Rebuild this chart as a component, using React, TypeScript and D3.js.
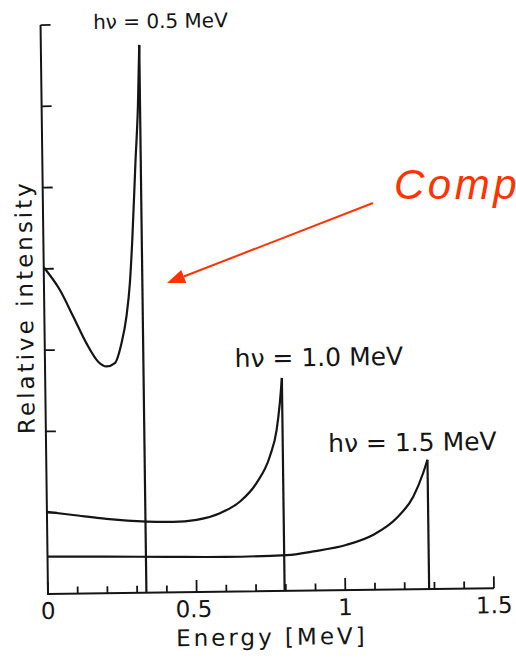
import React from 'react';
import * as d3 from 'd3';

const W = 516;
const H = 666;

// Axis ticks
const xMajorTicks = [0, 0.5, 1, 1.5];
const xMajorLabels = ['0', '0.5', '1', '1.5'];
const xMinorTicks = [0.1, 0.2, 0.3, 0.4, 0.6, 0.7, 0.8, 0.9, 1.1, 1.2, 1.3, 1.4];
const yTicks = [1, 2, 3, 4, 5, 6, 7];

// Compton continuum, hv = 0.5 MeV
const e05 = [0, 0.053, 0.097, 0.14, 0.179, 0.207, 0.235, 0.258, 0.276, 0.289, 0.299, 0.313, 0.324, 0.331];
const v05 = [4.02, 3.74, 3.41, 3.08, 2.85, 2.79, 2.83, 3.07, 3.4, 3.81, 4.34, 5.29, 6.0, 6.74];
// hv = 1.0 MeV
const e10 = [0, 0.088, 0.2, 0.335, 0.424, 0.503, 0.582, 0.65, 0.706, 0.752, 0.776, 0.788, 0.796];
const v10 = [1.01, 0.968, 0.914, 0.875, 0.867, 0.888, 0.967, 1.107, 1.33, 1.656, 1.98, 2.31, 2.62];
// hv = 1.5 MeV
const e15 = [0, 0.2, 0.4, 0.6, 0.805, 0.894, 1.007, 1.097, 1.176, 1.233, 1.267, 1.282];
const v15 = [0.459, 0.45, 0.438, 0.428, 0.44, 0.481, 0.558, 0.677, 0.879, 1.142, 1.428, 1.59];

const seriesLabels = ['hν = 0.5 MeV', 'hν = 1.0 MeV', 'hν = 1.5 MeV'];

const ORIGIN_X = 48;
const ORIGIN_Y = 594;
const ANGLE = -0.75; // scan tilt

// convert a target page position to pre-rotation coordinates
function place(px: number, py: number): [number, number] {
  const a = (-ANGLE * Math.PI) / 180;
  const dx = px - ORIGIN_X;
  const dy = py - ORIGIN_Y;
  return [ORIGIN_X + dx * Math.cos(a) - dy * Math.sin(a), ORIGIN_Y + dx * Math.sin(a) + dy * Math.cos(a)];
}

export default function App() {
  const x = d3.scaleLinear().domain([0, 1.5]).range([ORIGIN_X, 494]);
  const y = d3.scaleLinear().domain([0, 7]).range([ORIGIN_Y, 25]);

  const curve = d3
    .line<[number, number]>()
    .x((d) => x(d[0]))
    .y((d) => y(d[1]))
    .curve(d3.curveMonotoneX);
  const straight = d3
    .line<[number, number]>()
    .x((d) => x(d[0]))
    .y((d) => y(d[1]));

  const series = [
    [e05, v05],
    [e10, v10],
    [e15, v15],
  ].map(([es, vs]) => {
    const pts = es.map((e, i) => [e, vs[i]] as [number, number]);
    const last = pts[pts.length - 1];
    return { cont: curve(pts) as string, edge: straight([last, [last[0], 0]]) as string };
  });

  const ink = '#151515';
  const font = '"DejaVu Sans", "Noto Sans", sans-serif';

  const labelPos: [number, number, number][] = [
    [160.5, 28, 20],
    [319, 366, 25],
    [412.5, 451, 25],
  ];

  const [ylx, yly] = place(33, 307);
  const [exl, eyl] = place(272, 645);

  // arrow geometry (annotation, not part of the scan)
  const ax0 = 373, ay0 = 203, ax1 = 167, ay1 = 283;
  const len = Math.hypot(ax1 - ax0, ay1 - ay0);
  const ux = (ax1 - ax0) / len, uy = (ay1 - ay0) / len;
  const hl = 18, hw = 7;
  const bx = ax1 - ux * hl, by = ay1 - uy * hl;
  const head = `${ax1},${ay1} ${bx - uy * hw},${by + ux * hw} ${bx + uy * hw},${by - ux * hw}`;

  return (
    <svg
      width={W}
      height={H}
      style={{ position: 'absolute', left: 0, top: 0, background: '#fff' }}
    >
      <rect width={W} height={H} fill="#fff" />
      <g transform={`rotate(${ANGLE}, ${ORIGIN_X}, ${ORIGIN_Y})`}>
        {/* axes */}
        <path
          d={`M${x(0)},${y(7)}V${y(0)}H${x(1.5)}`}
          fill="none"
          stroke={ink}
          strokeWidth={2}
        />
        {yTicks.map((t) => (
          <line key={'y' + t} x1={x(0)} x2={x(0) + 10} y1={y(t)} y2={y(t)} stroke={ink} strokeWidth={1.8} />
        ))}
        {xMajorTicks.map((t) => (
          <line key={'xm' + t} x1={x(t)} x2={x(t)} y1={y(0)} y2={y(0) - 12} stroke={ink} strokeWidth={1.8} />
        ))}
        {xMinorTicks.map((t) => (
          <line key={'xn' + t} x1={x(t)} x2={x(t)} y1={y(0)} y2={y(0) - 7} stroke={ink} strokeWidth={1.8} />
        ))}
        {xMajorTicks.map((t, i) => (
          <text
            key={'xl' + t}
            x={x(t) - (i === 1 ? 3 : 0)}
            y={y(0) + 25}
            textAnchor="middle"
            fontFamily={font}
            fontSize={23}
            fill={ink}
          >
            {xMajorLabels[i]}
          </text>
        ))}

        {/* curves */}
        {series.map((s, i) => (
          <g key={'s' + i}>
            <path d={s.cont} fill="none" stroke={ink} strokeWidth={2.2} strokeLinejoin="round" />
            <path d={s.edge} fill="none" stroke={ink} strokeWidth={2.2} />
          </g>
        ))}

        {/* series labels */}
        {labelPos.map(([px, py, fs], i) => {
          const [lx, ly] = place(px, py);
          return (
            <text key={'lab' + i} x={lx} y={ly} textAnchor="middle" fontFamily={font} fontSize={fs} fill={ink}>
              {seriesLabels[i]}
            </text>
          );
        })}

        {/* axis titles */}
        <text
          transform={`translate(${ylx},${yly}) rotate(-90)`}
          textAnchor="middle"
          fontFamily={font}
          fontSize={23}
          letterSpacing={3}
          fill={ink}
        >
          Relative intensity
        </text>
        <text x={exl} y={eyl} textAnchor="middle" fontFamily={font} fontSize={23} letterSpacing={3} fill={ink}>
          Energy  [MeV]
        </text>
      </g>

      {/* red annotation */}
      <line x1={ax0} y1={ay0} x2={bx} y2={by} stroke="#ff3300" strokeWidth={2} />
      <polygon points={head} fill="#ff3300" />
      <text
        x={394}
        y={199}
        fontFamily='"Liberation Sans", Arial, sans-serif'
        fontStyle="italic"
        fontSize={42}
        letterSpacing={3.5}
        fill="#ff3300"
      >
        Compton edge
      </text>
    </svg>
  );
}
